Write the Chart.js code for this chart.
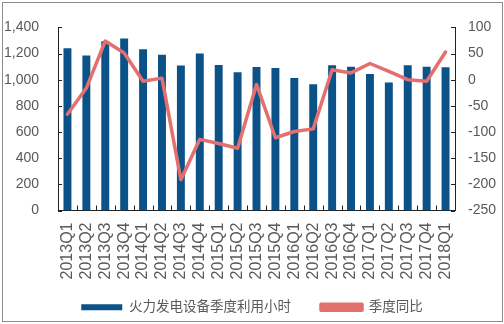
<!DOCTYPE html>
<html>
<head>
<meta charset="utf-8">
<script src="https://cdn.jsdelivr.net/npm/chart.js@4"></script>
<style>
  body { margin: 0; background: #fff; }
  #wrap { position: relative; width: 504px; height: 324px; }
  #frame { position: absolute; left: 2px; top: 2px; width: 499px; height: 318px; border: 1px solid #8c8c8c; pointer-events: none; }
</style>
</head>
<body>
<div id="wrap">
  <canvas id="grafico" width="504" height="324"></canvas>
  <div id="frame"></div>
</div>
<script>
const quarters = ['2013Q1','2013Q2','2013Q3','2013Q4','2014Q1','2014Q2','2014Q3','2014Q4',
  '2015Q1','2015Q2','2015Q3','2015Q4','2016Q1','2016Q2','2016Q3','2016Q4',
  '2017Q1','2017Q2','2017Q3','2017Q4','2018Q1'];
const hours = [1240, 1185, 1295, 1315, 1232, 1190, 1108, 1200, 1113, 1058, 1098,
  1090, 1013, 966, 1110, 1100, 1043, 978, 1110, 1100, 1095];
const yoy = [-66, -16, 74, 51, -3, 3, -191, -114, -122, -131, -9,
  -111, -99, -94, 19, 13, 31, 16, 0, -3, 53];

const fonte = 'Arial, "Liberation Sans", "Noto Sans CJK SC", sans-serif';
const cinza = '#595959';

// ticks pointing into the plot area
const ticksInternos = {
  id: 'ticksInternos',
  beforeDraw(chart) {
    // let the rotated x labels run past the axis box (chart.js clips them to it)
    chart.scales.x.bottom = chart.height;
  },
  afterDraw(chart) {
    const ctx = chart.ctx;
    const area = chart.chartArea;
    const x = chart.scales.x, y = chart.scales.y, y1 = chart.scales.y1;
    ctx.save();
    ctx.strokeStyle = '#222';
    ctx.lineWidth = 1;
    ctx.beginPath();
    for (let i = 0; i <= quarters.length; i++) {
      const px = Math.round(x.getPixelForValue(i - 0.5)) + 0.5;
      ctx.moveTo(px, area.bottom);
      ctx.lineTo(px, area.bottom - 5);
    }
    y.ticks.forEach((t, i) => {
      const py = Math.round(y.getPixelForTick(i)) + 0.5;
      ctx.moveTo(area.left, py);
      ctx.lineTo(area.left + 4, py);
    });
    y1.ticks.forEach((t, i) => {
      const py = Math.round(y1.getPixelForTick(i)) + 0.5;
      ctx.moveTo(area.right, py);
      ctx.lineTo(area.right - 4, py);
    });
    ctx.stroke();
    ctx.restore();
  }
};

new Chart(document.getElementById('grafico').getContext('2d'), {
  type: 'bar',
  data: {
    labels: quarters,
    datasets: [
      {
        type: 'line',
        label: '季度同比',
        data: yoy,
        yAxisID: 'y1',
        borderColor: '#e36f6f',
        backgroundColor: '#e36f6f',
        borderWidth: 3.5,
        pointRadius: 0,
        tension: 0,
        borderJoinStyle: 'round',
        borderCapStyle: 'round',
        order: 1
      },
      {
        label: '火力发电设备季度利用小时',
        data: hours,
        yAxisID: 'y',
        backgroundColor: '#0b5289',
        barPercentage: 0.42,
        categoryPercentage: 1,
        order: 2
      }
    ]
  },
  options: {
    responsive: false,
    animation: false,
    layout: { padding: { top: 23, right: 0, left: 0, bottom: 0 } },
    scales: {
      x: {
        grid: { display: false, drawTicks: false },
        border: { display: true, color: '#222', width: 1 },
        ticks: {
          color: cinza, font: { family: fonte, size: 16 },
          minRotation: 90, maxRotation: 90, padding: 12, autoSkip: false
        },
        afterFit: s => { s.height = 60; }
      },
      y: {
        position: 'left',
        min: 0, max: 1400,
        grid: { display: false, drawTicks: false },
        border: { display: true, color: '#222', width: 1 },
        ticks: { stepSize: 200, color: cinza, font: { family: fonte, size: 14 }, padding: 19 },
        afterFit: s => { s.width = 58; }
      },
      y1: {
        position: 'right',
        min: -250, max: 100,
        grid: { display: false, drawTicks: false },
        border: { display: true, color: '#222', width: 1 },
        ticks: { stepSize: 50, color: cinza, font: { family: fonte, size: 14 }, padding: 13 },
        afterFit: s => { s.width = 49; }
      }
    },
    plugins: {
      legend: {
        position: 'bottom',
        reverse: true,
        labels: {
          boxWidth: 41,
          boxHeight: 6,
          padding: 30,
          color: cinza,
          font: { family: fonte, size: 13.5 }
        }
      },
      tooltip: { enabled: false }
    }
  },
  plugins: [ticksInternos]
});
</script>
</body>
</html>
